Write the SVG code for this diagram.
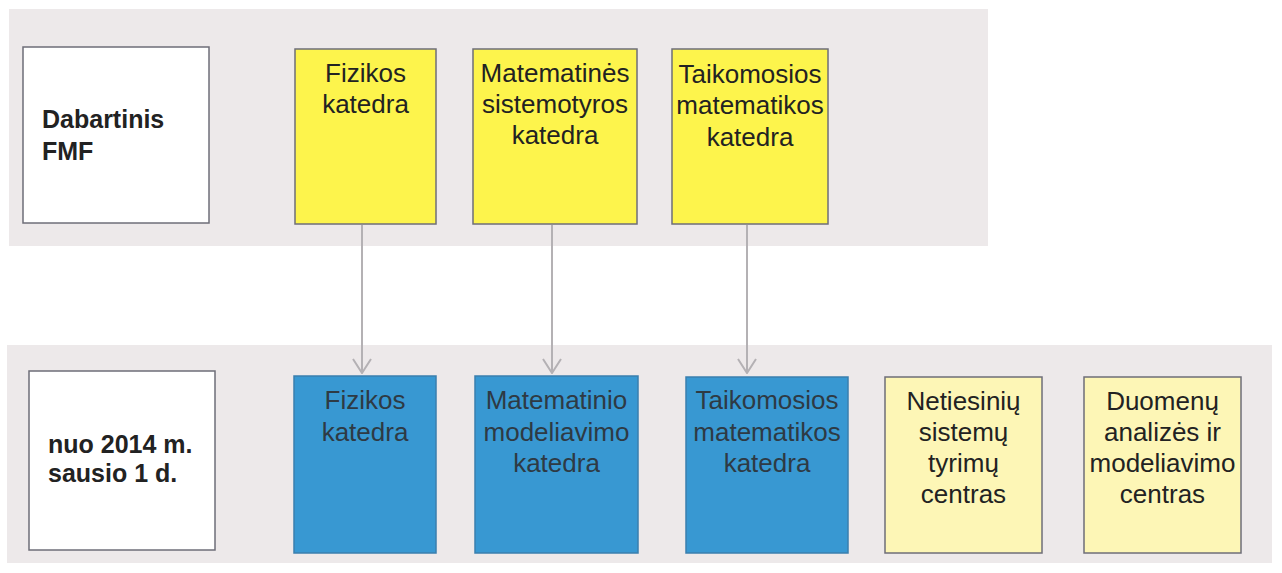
<svg xmlns="http://www.w3.org/2000/svg" width="1282" height="573" viewBox="0 0 1282 573">
<defs>
<style>
.band{fill:#ede9ea}
.box{stroke:#6e6e78;stroke-width:1.5}
.white{fill:#ffffff}
.yel{fill:#fdf44c}
.blue{fill:#3898d2;stroke:#3a7fae}
.lyel{fill:#fdf6b6}
.t{font-family:"Liberation Sans",Arial,sans-serif;font-size:26px;fill:#222;text-anchor:middle}
.tb{font-family:"Liberation Sans",Arial,sans-serif;font-size:25px;font-weight:bold;fill:#222}
.tblue{fill:#2e3a44}
.conn{stroke:#b4b1b4;stroke-width:2;fill:none}
</style>
<marker id="arr" viewBox="0 0 16 20" refX="15" refY="10" markerWidth="16" markerHeight="20" markerUnits="userSpaceOnUse" orient="auto">
<path d="M1,1 L15,10 L1,19" fill="none" stroke="#b4b1b4" stroke-width="2"/>
</marker>
</defs>
<rect width="1282" height="573" fill="#ffffff"/>
<rect class="band" x="9" y="9" width="979" height="237"/>
<rect class="band" x="7" y="345" width="1265" height="218"/>

<g id="connectors">
<line class="conn" x1="362" y1="225" x2="362" y2="373" marker-end="url(#arr)"/>
<line class="conn" x1="552" y1="225" x2="552" y2="373" marker-end="url(#arr)"/>
<line class="conn" x1="747" y1="225" x2="747" y2="373" marker-end="url(#arr)"/>
</g>

<g id="dabartinis">
<rect class="box white" x="23" y="47" width="186" height="176"/>
<text class="tb" x="42" y="128">Dabartinis</text>
<text class="tb" x="42" y="160">FMF</text>
</g>
<g id="fizikos-old">
<rect class="box yel" x="295" y="49" width="141" height="175"/>
<text class="t" x="365.5" y="82">Fizikos</text>
<text class="t" x="365.5" y="113">katedra</text>
</g>
<g id="sistemotyros">
<rect class="box yel" x="473" y="49" width="164" height="175"/>
<text class="t" x="555" y="82">Matematinės</text>
<text class="t" x="555" y="113">sistemotyros</text>
<text class="t" x="555" y="144">katedra</text>
</g>
<g id="taikomosios-old">
<rect class="box yel" x="672" y="49" width="156" height="175"/>
<text class="t" x="750" y="83">Taikomosios</text>
<text class="t" x="750" y="114">matematikos</text>
<text class="t" x="750" y="146">katedra</text>
</g>

<g id="nuo2014">
<rect class="box white" x="29" y="371" width="186" height="179"/>
<text class="tb" x="48" y="453">nuo 2014 m.</text>
<text class="tb" x="48" y="482">sausio 1 d.</text>
</g>
<g id="fizikos-new">
<rect class="box blue" x="294" y="376" width="142" height="177"/>
<text class="t tblue" x="365" y="409">Fizikos</text>
<text class="t tblue" x="365" y="441">katedra</text>
</g>
<g id="modeliavimo">
<rect class="box blue" x="475" y="376" width="163" height="177"/>
<text class="t tblue" x="556.5" y="409">Matematinio</text>
<text class="t tblue" x="556.5" y="441">modeliavimo</text>
<text class="t tblue" x="556.5" y="472">katedra</text>
</g>
<g id="taikomosios-new">
<rect class="box blue" x="686" y="377" width="162" height="176"/>
<text class="t tblue" x="767" y="409">Taikomosios</text>
<text class="t tblue" x="767" y="441">matematikos</text>
<text class="t tblue" x="767" y="472">katedra</text>
</g>
<g id="netiesiniu">
<rect class="box lyel" x="885" y="377" width="157" height="176"/>
<text class="t" x="963.5" y="410">Netiesinių</text>
<text class="t" x="963.5" y="441">sistemų</text>
<text class="t" x="963.5" y="472">tyrimų</text>
<text class="t" x="963.5" y="503">centras</text>
</g>
<g id="duomenu">
<rect class="box lyel" x="1084" y="377" width="157" height="176"/>
<text class="t" x="1162.5" y="410">Duomenų</text>
<text class="t" x="1162.5" y="441">analizės ir</text>
<text class="t" x="1162.5" y="472">modeliavimo</text>
<text class="t" x="1162.5" y="503">centras</text>
</g>
</svg>
